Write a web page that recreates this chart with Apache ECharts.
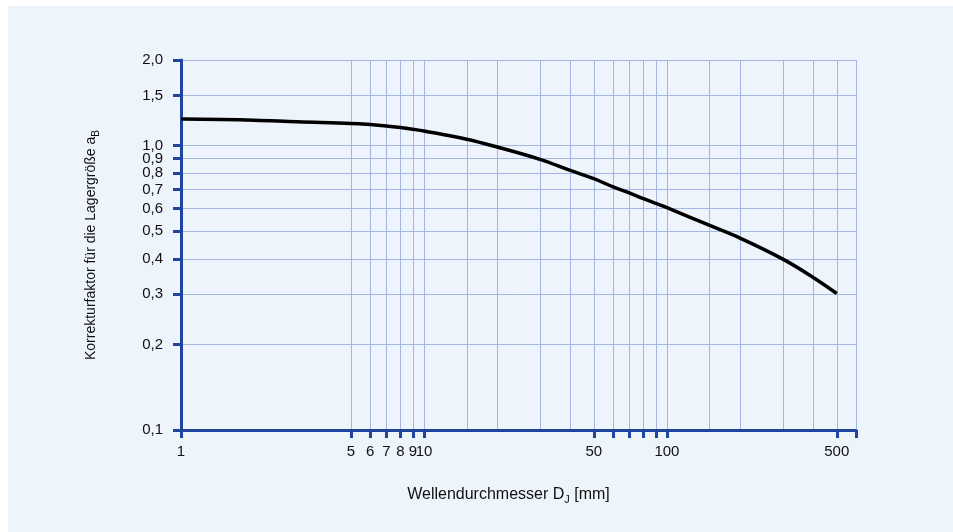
<!DOCTYPE html>
<html>
<head>
<meta charset="utf-8">
<script src="https://cdn.jsdelivr.net/npm/echarts@6/dist/echarts.min.js"></script>
<style>
  html, body { margin: 0; padding: 0; background: #ffffff; }
  #panel { position: absolute; left: 8px; top: 6px; width: 945px; height: 526px; background: #edf4fb; }
  #chart { position: absolute; left: 0; top: 0; width: 953px; height: 532px; }
</style>
</head>
<body>
<div id="panel"></div>
<div id="chart"></div>
<script>
// Wellendurchmesser D_J [mm]
const diameters = [1, 2, 3, 5, 6, 7, 8, 9, 10, 15, 20, 30, 40, 50, 60, 70, 80, 90, 100, 150, 200, 300, 400, 500];
// Korrekturfaktor a_B
const factors = [1.24, 1.228, 1.212, 1.197, 1.186, 1.173, 1.158, 1.142, 1.126, 1.053, 0.989, 0.895, 0.818, 0.765, 0.716, 0.682, 0.651, 0.626, 0.605, 0.524, 0.473, 0.399, 0.344, 0.302];

const xTickValues = [1, 5, 6, 7, 8, 9, 10, 50, 60, 70, 80, 90, 100, 500, 600];
const xLabelValues = [1, 5, 6, 7, 8, 9, 10, 50, 100, 500];
const xGridValues = [5, 6, 7, 8, 9, 10, 15, 20, 30, 40, 50, 60, 70, 80, 90, 100, 150, 200, 300, 400, 500, 600];
const yTickValues = [0.1, 0.2, 0.3, 0.4, 0.5, 0.6, 0.7, 0.8, 0.9, 1.0, 1.5, 2.0];

const axisBlue = '#1f459f';
const gridBlue = '#a6b6e2';
const textColor = '#111111';
const font = 'Liberation Sans, Arial, sans-serif';

const chart = echarts.init(document.getElementById('chart'), null, { renderer: 'canvas' });
chart.setOption({
  backgroundColor: 'transparent',
  animation: false,
  grid: { left: 181, right: 97, top: 60, bottom: 102 },
  xAxis: [
    {
      type: 'log', min: 1, max: 600, logBase: 10,
      name: 'Wellendurchmesser D{sub|J} [mm]',
      nameLocation: 'middle', nameGap: 54,
      nameTextStyle: {
        color: textColor, fontSize: 16, fontFamily: font, padding: [0, 20, 0, 0],
        rich: { sub: { fontSize: 11, fontFamily: font, color: textColor, padding: [10, 0, 0, 0] } }
      },
      axisLine: { show: true, lineStyle: { color: axisBlue, width: 3 } },
      axisTick: { show: true, inside: false, length: 8, customValues: xTickValues, lineStyle: { color: axisBlue, width: 3 } },
      axisLabel: { show: true, customValues: xLabelValues, margin: 14, color: textColor, fontSize: 15, fontFamily: font, formatter: v => String(v) },
      splitLine: { show: false }
    },
    {
      type: 'log', min: 1, max: 600, logBase: 10, position: 'bottom',
      axisLine: { show: false },
      axisTick: { show: false, customValues: xGridValues },
      axisLabel: { show: false, customValues: xGridValues },
      splitLine: { show: true, lineStyle: { color: gridBlue, width: 1 } }
    }
  ],
  yAxis: {
    type: 'log', min: 0.1, max: 2.0, logBase: 10,
    name: 'Korrekturfaktor für die Lagergröße a{sub|B}',
    nameLocation: 'middle', nameGap: 80,
    nameTextStyle: {
      color: textColor, fontSize: 14, fontFamily: font,
      rich: { sub: { fontSize: 10, fontFamily: font, color: textColor, padding: [9, 0, 0, 0] } }
    },
    axisLine: { show: true, lineStyle: { color: axisBlue, width: 3 } },
    axisTick: { show: true, inside: false, length: 8, customValues: yTickValues, lineStyle: { color: axisBlue, width: 3 } },
    axisLabel: { show: true, customValues: yTickValues, margin: 18, color: textColor, fontSize: 15, fontFamily: font, formatter: v => Number(v).toFixed(1).replace('.', ',') },
    splitLine: { show: true, lineStyle: { color: gridBlue, width: 1 } }
  },
  series: [{
    type: 'line',
    xAxisIndex: 0,
    data: diameters.map((d, i) => [d, factors[i]]),
    smooth: 0.4,
    symbol: 'none',
    lineStyle: { color: '#000000', width: 3.5 },
    z: 5
  }]
});
</script>
</body>
</html>
